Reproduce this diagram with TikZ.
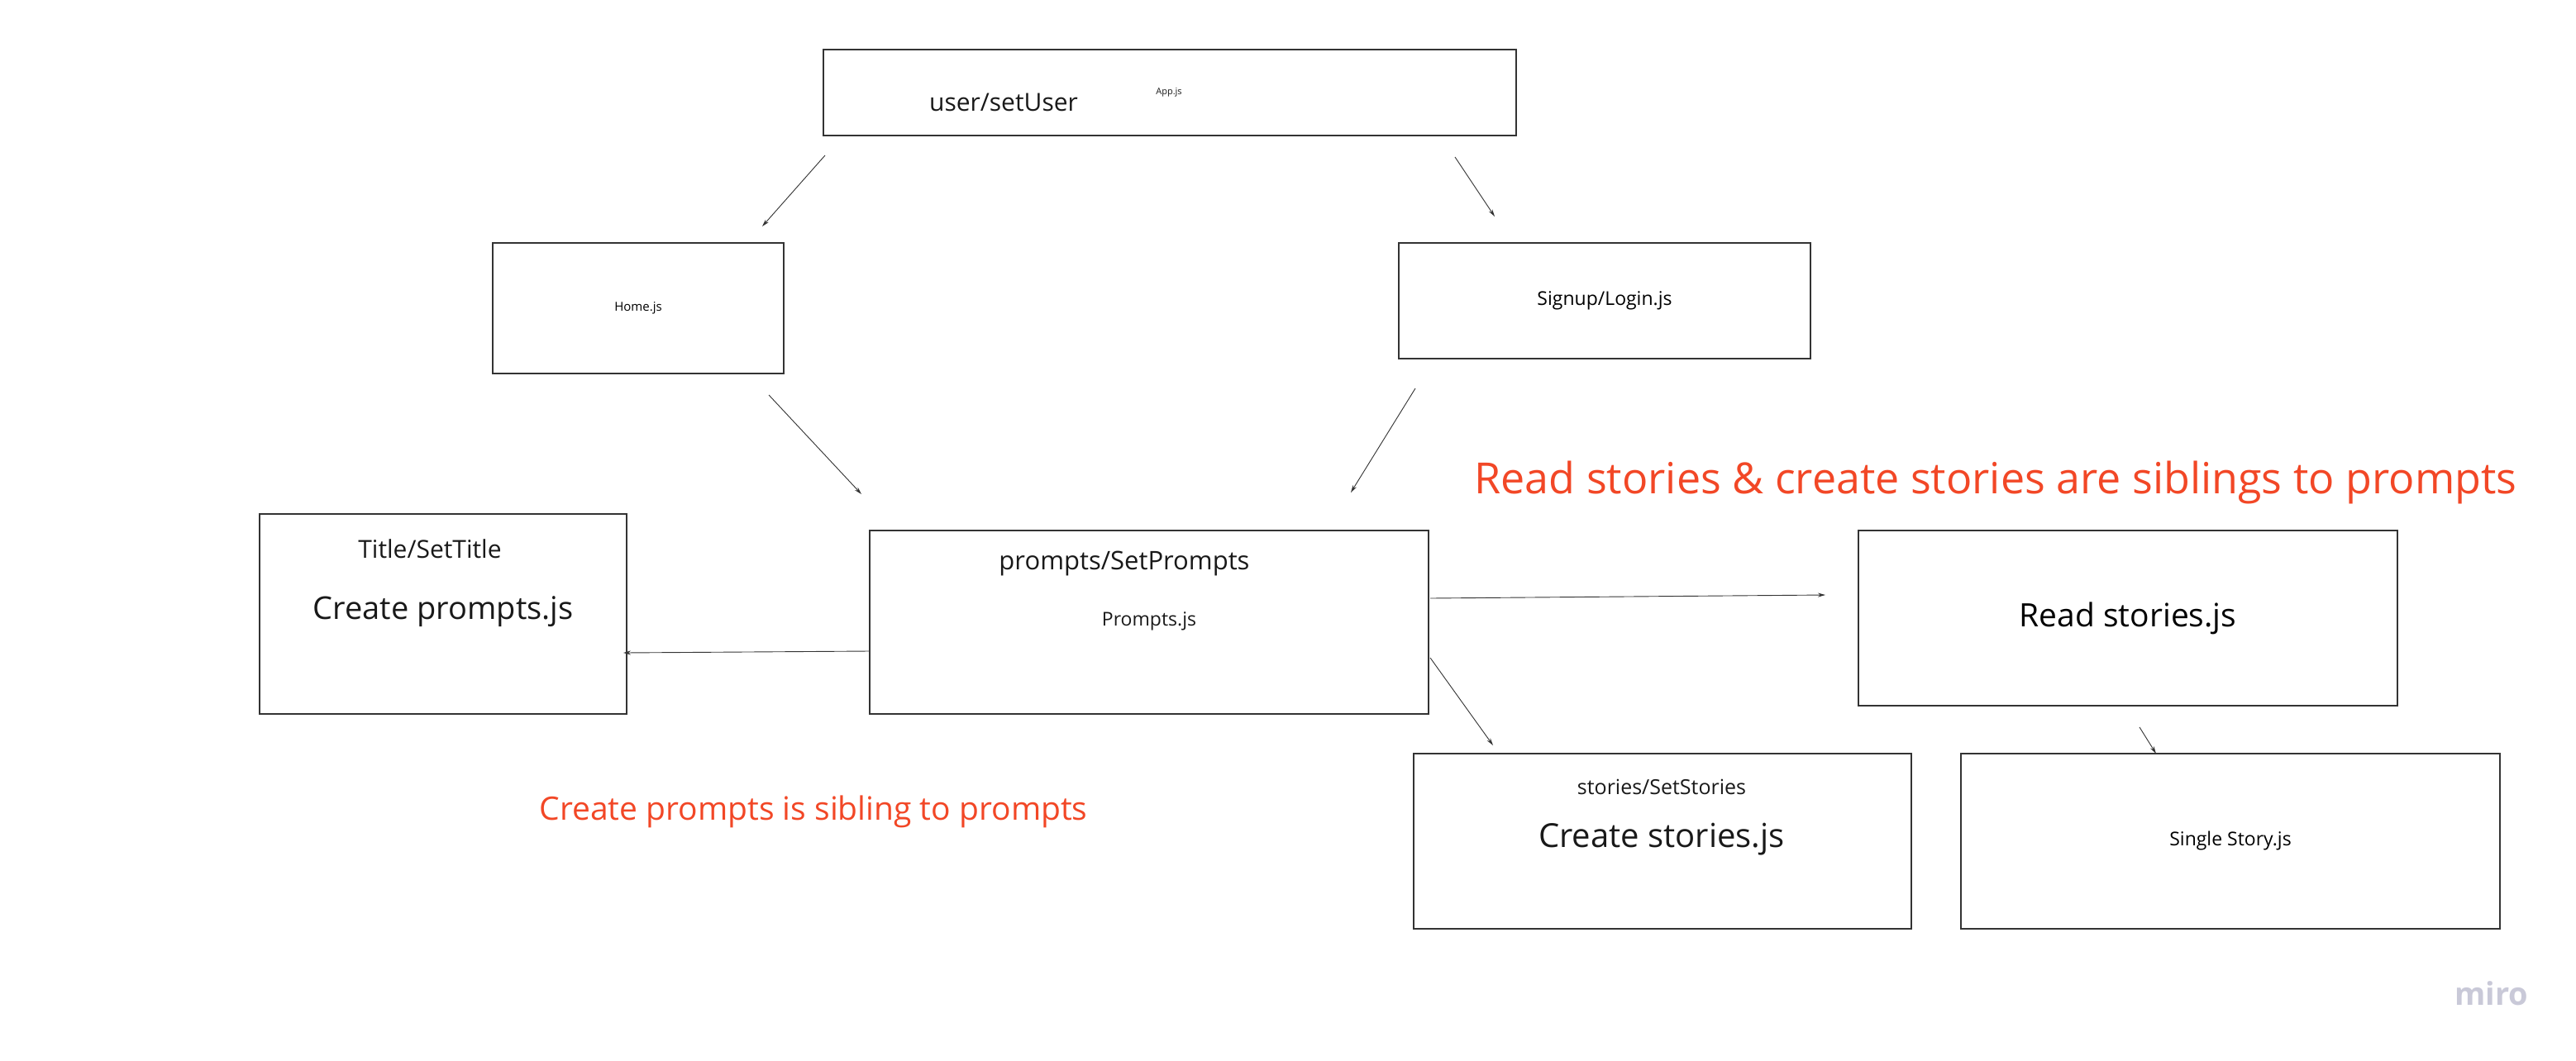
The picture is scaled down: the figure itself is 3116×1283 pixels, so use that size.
\documentclass[tikz,border=0pt]{standalone}
\usepackage{fontspec}
\setmainfont{Open Sans}
\usetikzlibrary{arrows.meta}
\definecolor{miroRed}{HTML}{F24726}
\definecolor{miroGray}{HTML}{C9C9D8}
\definecolor{edgeGray}{HTML}{333333}
\newcommand{\fsz}[1]{\fontsize{#1}{#1}\selectfont}
\tikzset{
  box/.style={draw=edgeGray, line width=1.3pt, inner sep=0pt},
  lbl/.style={inner sep=0pt, text=black!90},
  arr/.style={draw=edgeGray, line width=0.9pt, -{Stealth[length=9pt,width=5pt]}},
  note/.style={inner sep=0pt, text=miroRed},
}
\begin{document}
\begin{tikzpicture}[x=1pt,y=-1pt]
  \fill[white] (0,0) rectangle (3116,1283);
  \useasboundingbox (0,0) rectangle (3116,1283);

  % boxes
  \node[box, minimum width=838pt, minimum height=104pt] (app) at (1415,112) {};
  \node[box, minimum width=352pt, minimum height=158pt, font=\fsz{15}] (home) at (772,373) {Home.js};
  \node[box, minimum width=498pt, minimum height=140pt, font=\fsz{23}] (login) at (1941,364) {Signup/Login.js};
  \node[box, minimum width=444pt, minimum height=242pt] (title) at (536,743) {};
  \node[box, minimum width=676pt, minimum height=222pt] (prompts) at (1390,753) {};
  \node[box, minimum width=652pt, minimum height=212pt, font=\fsz{39}] (read) at (2574,748) {Read stories.js};
  \node[box, minimum width=602pt, minimum height=212pt] (create) at (2011,1018) {};
  \node[box, minimum width=652pt, minimum height=212pt, font=\fsz{23}] (single) at (2698,1018) {Single Story.js};

  % labels inside boxes
  \node[lbl, font=\fsz{30}] (appstate) at (1214,124) {user/setUser};
  \node[lbl, font=\fsz{11}] (appname) at (1414,112) {App.js};
  \node[lbl, font=\fsz{30}] (titlestate) at (520,664) {Title/SetTitle};
  \node[lbl, font=\fsz{38}] (titlename) at (536,740) {Create prompts.js};
  \node[lbl, font=\fsz{31}] (promptstate) at (1360,682) {prompts/SetPrompts};
  \node[lbl, font=\fsz{23}] (promptname) at (1390,752) {Prompts.js};
  \node[lbl, font=\fsz{25}] (storystate) at (2010,952) {stories/SetStories};
  \node[lbl, font=\fsz{40}] (storyname) at (2010,1016) {Create stories.js};

  % notes
  \node[note, font=\fsz{52}] (readnote) at (2414,584) {Read stories \& create stories are siblings to prompts};
  \node[note, font=\fsz{39}] (createnote) at (984,982) {Create prompts is sibling to prompts};
  \node[inner sep=0pt, text=miroGray, font=\fsz{38}\bfseries] (logo) at (3014,1202) {miro};

  % connectors
  \coordinate (a1) at (998,188);   \coordinate (b1) at (922,274);
  \coordinate (a2) at (1760,190);  \coordinate (b2) at (1808,262);
  \coordinate (a3) at (930,478);   \coordinate (b3) at (1042,598);
  \coordinate (a4) at (1712,470);  \coordinate (b4) at (1634,596);
  \coordinate (a5) at (1052,788);  \coordinate (b5) at (754,790);
  \coordinate (a6) at (1730,724);  \coordinate (b6) at (2208,720);
  \coordinate (a7) at (1730,796);  \coordinate (b7) at (1806,902);
  \coordinate (a8) at (2588,880);  \coordinate (b8) at (2608,912);
  \foreach \i in {1,...,8}
    \draw[arr] (a\i) -- (b\i);
\end{tikzpicture}
\end{document}
